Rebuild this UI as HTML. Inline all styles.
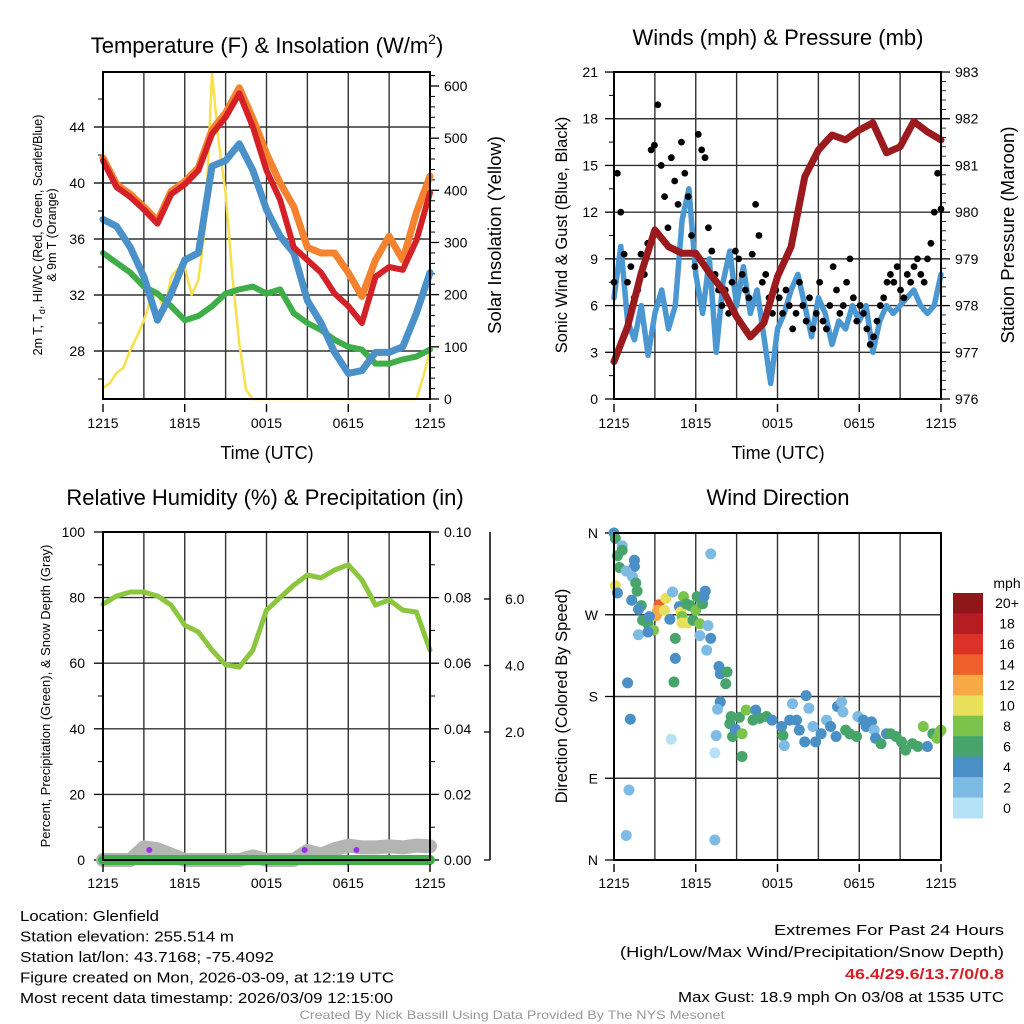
<!DOCTYPE html>
<html><head><meta charset="utf-8"><style>
html,body{margin:0;padding:0;background:#fff;}
svg{display:block;font-family:"Liberation Sans",sans-serif;}
</style></head><body>
<svg id="c" width="1024" height="1024" viewBox="0 0 1024 1024" xmlns="http://www.w3.org/2000/svg"></svg>
<script>
// ---------- DATA ----------
const hrTicks = ["1215","1815","0015","0615","1215"];
const tempTicks = [28,32,36,40,44];
const solarTicks = [0,100,200,300,400,500,600];
const windTicks = [0,3,6,9,12,15,18,21];
const presTicks = [976,977,978,979,980,981,982,983];
const rhTicks = [0,20,40,60,80,100];
const precipTicks = ["0.00","0.02","0.04","0.06","0.08","0.10"];
const snowTicks = ["2.0","4.0","6.0"];
const dirLabels = ["N","W","S","E","N"];
// hourly (h0..h24)
const tempRed = [41.6,39.7,39.0,38.1,37.1,39.2,39.9,40.9,43.5,44.7,46.4,44.0,40.9,38.8,35.4,34.5,33.6,32.1,31.2,30.0,33.3,34.0,33.8,35.9,39.3];
const tempOrange = [41.8,39.9,39.2,38.3,37.3,39.4,40.1,41.1,43.8,45.0,46.8,44.6,42.1,40.0,38.3,35.4,35.0,35.0,33.6,31.9,34.5,36.2,34.5,37.9,40.5];
const dewBlue = [37.4,36.9,35.4,33.3,30.2,32.1,34.5,35.0,41.2,41.6,42.8,40.9,38.1,36.2,35.0,31.6,30.0,27.9,26.4,26.6,27.9,27.9,28.3,30.7,33.6];
const tempGreen = [35.0,34.3,33.6,32.6,32.1,31.2,30.2,30.5,31.2,32.1,32.4,32.6,32.1,32.4,30.7,30.0,29.5,28.8,28.3,28.1,27.1,27.1,27.4,27.6,28.1];
// half-hourly (49)
const solar = [21,30,50,60,94,120,151,190,203,170,234,250,253,200,228,330,625,490,395,234,107,17,0,0,0,0,0,0,0,0,0,0,0,0,0,0,0,0,0,0,0,0,0,0,0,0,0,42,94];
const windSpd = [6.5,9.8,5.0,3.8,6.0,2.8,5.5,7.0,4.5,6.0,11.5,13.5,8.0,5.5,9.0,3.0,7.5,9.5,6.0,8.5,5.5,7.0,4.0,1.0,4.5,5.5,7.0,8.0,6.0,4.0,6.5,5.5,3.5,5.0,4.5,6.0,5.0,6.0,3.0,5.0,6.0,5.5,6.0,6.5,7.0,6.0,5.5,6.0,8.0];
// hourly pressure
const pressure = [976.80,977.55,978.70,979.62,979.26,979.12,979.12,978.70,978.33,977.76,977.33,977.63,978.62,979.26,980.76,981.33,981.65,981.55,981.76,981.91,981.27,981.40,981.94,981.72,981.55];
// gusts evenly spaced over 24 h
const gusts = [7.5,14.5,12,9.3,7.5,8.5,6.5,7,9.3, 8,10,16,16.3,18.9,15,13,11, 15.5,14,12.5,16.5,14.5,13,10.5,8.5, 17,16,15.5,11,9.5,8,7,6, 7,5.5,7.5,9.5,9,8,7,6.5, 9.3,12.5,10.5,7.5,8,6.5,5.5,7, 6.5,5.5,7,6,4.5,5.5,7.5,6, 5,6.5,4.5,5.5,7.5,5,4.5,6, 8.5,7,5.5,6,7.5,9,6.5,5, 6,5.5,4.5,3.5,4,5,6,6.5, 7.5,8.0,7.5,8.5,7,6.5,8,7.5, 8.5,9,8,7.5,9,10,12,14.5,12.2];
const rh = [78,80.5,81.7,81.7,80.5,77.7,71.6,69.5,64,59.5,58.8,64,76.2,80,83.8,86.9,86,88.4,90,85.4,77.7,79.3,76.2,75.6,64];
const snowDepth = [0,0,0,0.35,0.3,0.15,0,0,0,0,0,0.1,0,0,0,0.25,0.15,0.3,0.4,0.35,0.35,0.38,0.35,0.4,0.38];
const purpleHours = [3.4,14.8,18.6];
// wind direction scatter
const dirHour = [0,0.1,0.6,0.6,0.25,1.5,1.5,0.4,0.9,1.35,1.6,0.1,0.25,1.7,1.3,2.0,1.8,3.3,3.2,3.1,3.8,3.7,2.1,2.5,2.6,2.9,1.8,2.5,4.1,4.3,4.8,4.9,5.0,5.1,5.3,5.0,5.4,5.6,5.8,6.1,6.0,6.3,6.5,6.6,6.7,4.5,4.5,4.4,1.0,1.2,1.1,0.9,4.2,6.3,7.1,6.9,7.1,6.8,7.4,7.4,7.5,7.7,7.8,8.2,8.3,7.8,7.6,8.6,8.5,8.7,8.9,9.4,9.2,9.7,9.4,10.2,10.4,10.7,11.2,11.6,12.3,12.4,12.5,12.9,13.1,13.4,13.6,14.0,14.1,14.3,14.6,14.8,15.2,15.6,15.9,16.3,16.4,16.7,16.8,17.0,17.3,17.8,17.9,18.3,18.5,18.9,19.1,19.2,19.6,20.0,20.3,20.7,21.1,21.4,21.9,22.3,22.7,23.0,23.4,23.7,23.9,24.0];
const dirDeg = [360,354,346,341,335,330,323,322,318,312,305,302,294,296,286,280,276,281,275,269,288,275,264,260,268,253,248,251,265,295,279,273,268,290,282,261,261,280,264,290,275,260,282,290,296,244,222,196,195,155,77,27,133,247,244,258,337,231,22,118,137,213,205,194,207,174,166,158,150,136,144,139,157,165,114,154,165,156,158,154,147,137,126,154,172,154,143,130,181,167,147,130,139,154,147,136,169,174,163,143,139,136,158,154,147,152,143,134,128,139,139,136,130,121,128,125,147,125,139,134,141,143];
const dirSpd = [4,7,2,6,6,4,4,6,2,2,6,10,4,6,4,6,4,14,12,12,10,10,6,6,4,8,2,4,4,2,4,10,8,8,6,10,10,6,6,6,8,8,6,4,4,6,4,6,4,4,2,2,0,2,4,2,2,2,2,0,2,4,4,6,6,4,2,6,6,6,4,8,6,8,6,6,4,6,6,4,4,6,2,4,2,4,4,4,4,2,2,4,4,2,4,4,4,2,2,6,6,6,2,4,4,4,2,4,6,4,6,6,6,6,6,6,8,4,6,8,8,8];
const cbLabels = ["20+","18","16","14","12","10","8","6","4","2","0"];
const cbColors = ["#8f1619","#b71c22","#dc3127","#ef5f2a","#f6a944","#e8e05a","#7bc34b","#47a56b","#4a8fc6","#7ebbe4","#b6e2f8"];

// ---------- HELPERS ----------
const S = document.getElementById('c');
const NS = 'http://www.w3.org/2000/svg';
function mk(tag, attrs, parent) {
  const e = document.createElementNS(NS, tag);
  for (const k in attrs) e.setAttribute(k, attrs[k]);
  (parent || S).appendChild(e);
  return e;
}
function txt(x, y, s, size, anchor, parent, extra) {
  const t = mk('text', Object.assign({x: x, y: y, 'font-size': size, 'text-anchor': anchor || 'middle', fill: '#000'}, extra || {}), parent);
  t.textContent = s;
  return t;
}
function xScale(L, R) { return h => L + h * (R - L) / 24; }
function frame(L, R, T, B, name) {
  const g = mk('g', {});
  
  
  for (let h = 3; h < 24; h += 3) {
    const x = xScale(L, R)(h);
    mk('line', {x1: x, y1: T, x2: x, y2: B, stroke: '#333', 'stroke-width': 1.4}, g);
  }
  return g;
}
function hgrid(g, L, R, y) { mk('line', {x1: L, y1: y, x2: R, y2: y, stroke: '#333', 'stroke-width': 1.4}, g); }
function border(g, L, R, T, B) {
  mk('rect', {x: L, y: T, width: R - L, height: B - T, fill: 'none', stroke: '#000', 'stroke-width': 2}, g);
}
function xLabels(g, L, R, y) {
  const xs = xScale(L, R);
  hrTicks.forEach((s, i) => {
    const x = xs(i * 6);
    mk('line', {x1: x, y1: y - 24, x2: x, y2: y - 16, stroke: '#000', 'stroke-width': 1.4}, g);
    const t = txt(x, y, s, 14, 'middle', g);
    
    
  });
}
function poly(pts, stroke, w, parent, name) {
  const p = mk('polyline', {points: pts.map(p => p[0].toFixed(1) + ',' + p[1].toFixed(1)).join(' '), fill: 'none', stroke: stroke, 'stroke-width': w, 'stroke-linejoin': 'round', 'stroke-linecap': 'round'}, parent);
  
  
  return p;
}

// ---------- PANEL 1 ----------
(function(){
  const L = 103, R = 430, T = 72, B = 399;
  const xs = xScale(L, R);
  const yT = v => 127 - (v - 44) * 14;
  const yS = w => 399 - w * 0.5217;
  const g = frame(L, R, T, B, 'temperature-panel');
  tempTicks.forEach(v => {
    hgrid(g, L, R, yT(v));
    mk('line', {x1: L - 9, y1: yT(v), x2: L, y2: yT(v), stroke: '#000', 'stroke-width': 1.3}, g);
    txt(L - 18, yT(v) + 5, String(v), 14, 'end', g);
  });
  for (let v = 26; v <= 46; v += 4) mk('line', {x1: L - 5, y1: yT(v), x2: L, y2: yT(v), stroke: '#000', 'stroke-width': 1}, g);
  solarTicks.forEach(v => {
    mk('line', {x1: R, y1: yS(v), x2: R + 9, y2: yS(v), stroke: '#000', 'stroke-width': 1.3}, g);
    txt(R + 14, yS(v) + 5, String(v), 14, 'start', g);
  });
  for (let v = 20; v <= 620; v += 20) if (v % 100) mk('line', {x1: R, y1: yS(v), x2: R + 5, y2: yS(v), stroke: '#000', 'stroke-width': 1}, g);
  poly(solar.map((v, i) => [xs(i / 2), yS(v)]), '#f9e04b', 2.5, g, 'solar-insolation-line');
  poly(tempGreen.map((v, i) => [xs(i), yT(v)]), '#3fae48', 6, g, 'green-temp-line');
  poly(dewBlue.map((v, i) => [xs(i), yT(v)]), '#4a90c9', 7, g, 'dewpoint-line');
  poly(tempOrange.map((v, i) => [xs(i), yT(v)]), '#f5822f', 7, g, 'nine-m-temp-line');
  poly(tempRed.map((v, i) => [xs(i), yT(v)]), '#d42127', 6, g, 'two-m-temp-line');
  border(g, L, R, T, B);
  xLabels(g, L, R, 428);
  const t = txt(267, 53, 'Temperature (F) & Insolation (W/m', 22, 'middle', S);
  const sup = mk('tspan', {'font-size': 14, dy: -9}, t); sup.textContent = '2';
  const cl = mk('tspan', {'font-size': 22, dy: 9}, t); cl.textContent = ')';
   
  const xl = txt(267, 459, 'Time (UTC)', 18, 'middle', S);
   
  const yl = mk('text', {x: 0, y: 0, 'font-size': 12.5, 'text-anchor': 'middle', transform: 'translate(42,235) rotate(-90)'});
   
  const a = mk('tspan', {}, yl); a.textContent = '2m T, T';
  const b = mk('tspan', {'font-size': 9, dy: 3}, yl); b.textContent = 'd';
  const c = mk('tspan', {dy: -3}, yl); c.textContent = ', HI/WC (Red, Green, Scarlet/Blue)';
  const d = mk('text', {x: 0, y: 0, 'font-size': 12.5, 'text-anchor': 'middle', transform: 'translate(56,235) rotate(-90)'});
  d.textContent = '& 9m T (Orange)';
   
  const yr = txt(0, 0, 'Solar Insolation (Yellow)', 18.5, 'middle', S, {transform: 'translate(501,235) rotate(-90)'});
   
})();

// ---------- PANEL 2 ----------
(function(){
  const L = 614, R = 941, T = 72, B = 399;
  const xs = xScale(L, R);
  const yW = v => 399 - v * 15.57;
  const yP = p => 399 - (p - 976) * 46.71;
  const g = frame(L, R, T, B, 'winds-panel');
  windTicks.forEach(v => {
    if (v > 0 && v < 21) hgrid(g, L, R, yW(v));
    mk('line', {x1: L - 9, y1: yW(v), x2: L, y2: yW(v), stroke: '#000', 'stroke-width': 1.3}, g);
    txt(L - 16, yW(v) + 5, String(v), 14, 'end', g);
  });
  for (let v = 1.5; v < 21; v += 3) mk('line', {x1: L - 5, y1: yW(v), x2: L, y2: yW(v), stroke: '#000', 'stroke-width': 1}, g);
  presTicks.forEach(p => {
    mk('line', {x1: R, y1: yP(p), x2: R + 9, y2: yP(p), stroke: '#000', 'stroke-width': 1.3}, g);
    txt(R + 14, yP(p) + 5, String(p), 14, 'start', g);
  });
  for (let p = 976.2; p < 983; p += 0.2) mk('line', {x1: R, y1: yP(p), x2: R + 5, y2: yP(p), stroke: '#000', 'stroke-width': 0.8}, g);
  poly(windSpd.map((v, i) => [xs(i / 2), yW(v)]), '#4b97d2', 5.5, g, 'sonic-wind-line');
  gusts.forEach((v, i) => {
    const c = mk('circle', {cx: xs(i * 24 / (gusts.length - 1)), cy: yW(v), r: 3.4, fill: '#000'}, g);
    
    
  });
  poly(pressure.map((v, i) => [xs(i), yP(v)]), '#9b1a1d', 7, g, 'pressure-line');
  border(g, L, R, T, B);
  xLabels(g, L, R, 428);
  const t = txt(778, 45, 'Winds (mph) & Pressure (mb)', 22, 'middle', S);
   
  const xl = txt(778, 459, 'Time (UTC)', 18, 'middle', S);
   
  const yl = txt(0, 0, 'Sonic Wind & Gust (Blue, Black)', 16.5, 'middle', S, {transform: 'translate(567,235) rotate(-90)'});
   
  const yr = txt(0, 0, 'Station Pressure (Maroon)', 18.5, 'middle', S, {transform: 'translate(1014,235) rotate(-90)'});
   
})();

// ---------- PANEL 3 ----------
(function(){
  const L = 103, R = 430, T = 532, B = 860;
  const xs = xScale(L, R);
  const yR = v => 860 - v * 3.28;
  const yD = v => 860 - v * 36;
  const g = frame(L, R, T, B, 'humidity-panel');
  rhTicks.forEach((v, i) => {
    if (v > 0 && v < 100) hgrid(g, L, R, yR(v));
    mk('line', {x1: L - 9, y1: yR(v), x2: L, y2: yR(v), stroke: '#000', 'stroke-width': 1.3}, g);
    txt(L - 18, yR(v) + 5, String(v), 14, 'end', g);
    mk('line', {x1: R, y1: yR(v), x2: R + 9, y2: yR(v), stroke: '#000', 'stroke-width': 1.3}, g);
    txt(R + 14, yR(v) + 5, precipTicks[i], 14, 'start', g);
  });
  for (let v = 10; v < 100; v += 20) {
    mk('line', {x1: L - 5, y1: yR(v), x2: L, y2: yR(v), stroke: '#000', 'stroke-width': 1}, g);
    mk('line', {x1: R, y1: yR(v), x2: R + 5, y2: yR(v), stroke: '#000', 'stroke-width': 1}, g);
  }
  mk('line', {x1: 490, y1: 532, x2: 490, y2: 860, stroke: '#000', 'stroke-width': 1.5}, g);
  snowTicks.forEach((s, i) => {
    const y = 732 - i * 66.5;
    mk('line', {x1: 484, y1: y, x2: 490, y2: y, stroke: '#000', 'stroke-width': 1.3}, g);
    txt(505, y + 5, s, 14, 'start', g);
  });
  mk('line', {x1: 484, y1: 860, x2: 490, y2: 860, stroke: '#000', 'stroke-width': 1.3}, g);
  poly(snowDepth.map((v, i) => [xs(i), yD(v)]), '#b4b4b4', 14, g, 'snow-depth-line');
  poly([[xs(0), 860], [xs(24), 860]], '#3fae48', 10, g, 'precipitation-line');
  purpleHours.forEach(h => {
    const c = mk('circle', {cx: xs(h), cy: 850, r: 3, fill: '#9b30e0'}, g);
    
    
  });
  poly(rh.map((v, i) => [xs(i), yR(v)]), '#8cc63f', 5, g, 'relative-humidity-line');
  border(g, L, R, T, B);
  xLabels(g, L, R, 888);
  const t = txt(265, 505, 'Relative Humidity (%) & Precipitation (in)', 22, 'middle', S);
   
  const yl = txt(0, 0, 'Percent, Precipitation (Green), & Snow Depth (Gray)', 13, 'middle', S, {transform: 'translate(50,696) rotate(-90)'});
   
})();

// ---------- PANEL 4 ----------
(function(){
  const L = 614, R = 941, T = 533, B = 860;
  const xs = xScale(L, R);
  const yDir = d => 860 - d * (B - T) / 360;
  const g = frame(L, R, T, B, 'wind-direction-panel');
  dirLabels.forEach((s, i) => {
    const y = T + i * (B - T) / 4;
    if (i > 0 && i < 4) hgrid(g, L, R, y);
    mk('line', {x1: L - 9, y1: y, x2: L, y2: y, stroke: '#000', 'stroke-width': 1.3}, g);
    txt(L - 16, y + 5, s, 14, 'end', g);
  });
  dirHour.forEach((h, i) => {
    const bin = Math.min(10, Math.floor(dirSpd[i] / 2));
    const c = mk('circle', {cx: xs(h), cy: yDir(dirDeg[i]), r: 5.5, fill: cbColors[10 - bin]}, g);
    
    
  });
  border(g, L, R, T, B);
  xLabels(g, L, R, 888);
  const t = txt(778, 505, 'Wind Direction', 22, 'middle', S);
   
  const yl = txt(0, 0, 'Direction (Colored By Speed)', 16.5, 'middle', S, {transform: 'translate(567,696) rotate(-90)'});
   
  const cb = mk('g', {});
  
  
  const h = (818 - 593) / cbColors.length;
  cbColors.forEach((col, i) => {
    mk('rect', {x: 953, y: 593 + i * h, width: 30, height: h + 0.5, fill: col}, cb);
    txt(1007, 593 + i * h + h / 2 + 5, cbLabels[i], 14, 'middle', cb);
  });
  txt(1007, 588, 'mph', 14, 'middle', cb);
})();

// ---------- FOOTER TEXT ----------
(function(){
  const left = ['Location: Glenfield','Station elevation: 255.514 m','Station lat/lon: 43.7168; -75.4092','Figure created on Mon, 2026-03-09, at 12:19 UTC','Most recent data timestamp: 2026/03/09 12:15:00'];
  const lw = [139,214,254,374,373];
  const g = mk('g', {});
  
  
  left.forEach((s, i) => txt(20, 921 + i * 20.5, s, 14.5, 'start', g, {textLength: lw[i], lengthAdjust: 'spacingAndGlyphs'}));
  const r = mk('g', {});
  
  
  txt(1004, 935, 'Extremes For Past 24 Hours', 15, 'end', r, {textLength: 230, lengthAdjust: 'spacingAndGlyphs'});
  txt(1004, 957, '(High/Low/Max Wind/Precipitation/Snow Depth)', 15, 'end', r, {textLength: 384, lengthAdjust: 'spacingAndGlyphs'});
  txt(1004, 979, '46.4/29.6/13.7/0/0.8', 15, 'end', r, {fill: '#d42127', 'font-weight': 'bold', textLength: 159, lengthAdjust: 'spacingAndGlyphs'});
  txt(1004, 1002, 'Max Gust: 18.9 mph On 03/08 at 1535 UTC', 15, 'end', r, {textLength: 326, lengthAdjust: 'spacingAndGlyphs'});
  const f = txt(512, 1019, 'Created By Nick Bassill Using Data Provided By The NYS Mesonet', 12, 'middle', S, {fill: '#999', textLength: 425, lengthAdjust: 'spacingAndGlyphs'});
   
})();
</script>
</body></html>
